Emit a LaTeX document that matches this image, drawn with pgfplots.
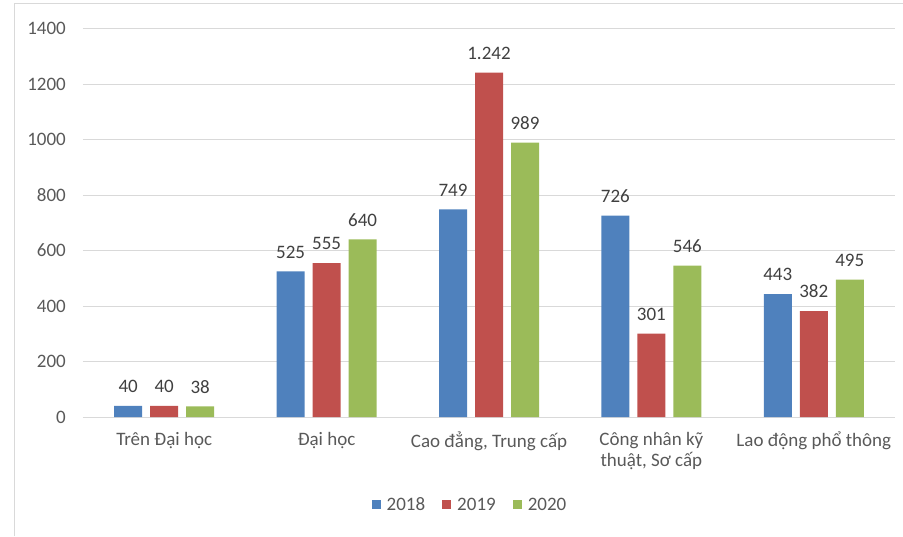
\documentclass[border=0pt]{standalone}
\usepackage{pgfplots}
\pgfplotsset{compat=1.18}
\usepackage{fontspec}
\setmainfont{Carlito}
\definecolor{cblue}{HTML}{4F81BD}
\definecolor{cred}{HTML}{C0504D}
\definecolor{cgreen}{HTML}{9BBB59}
\definecolor{gridc}{HTML}{D9D9D9}
\definecolor{txt}{HTML}{595959}
\definecolor{lbl}{HTML}{404040}
\begin{document}
\begin{tikzpicture}[font=\fontsize{19}{21.6}\selectfont]
\useasboundingbox (0,0) rectangle (903pt,536pt);
\draw[gridc, line width=1pt] (14pt,0) -- (14pt,532pt) -- (903pt,532pt);
\begin{axis}[
  at={(83pt,119pt)}, anchor=south west,
  scale only axis, width=812pt, height=388.3pt,
  ymin=0, ymax=1400, xmin=-0.5, xmax=4.5,
  ybar=8pt, bar width=28pt,
  axis line style={draw=none},
  major tick length=0pt,
  ytick={0,200,...,1400},
  ymajorgrids, grid style={gridc, line width=1pt},
  xtick={0,1,2,3,4},
  xticklabels={Trên Đại học, Đại học, {Cao đẳng, Trung cấp}, {Công nhân kỹ\\thuật, Sơ cấp}, Lao động phổ thông},
  xticklabel style={align=center, text=txt, inner sep=0pt, anchor=north, yshift=-15pt, font=\fontsize{19}{21.6}\selectfont},
  yticklabel style={text=txt, inner sep=0pt, anchor=east, xshift=-17pt, /pgf/number format/1000 sep={}, /pgf/number format/assume math mode=true, font=\fontsize{19}{21.6}\selectfont},
  nodes near coords={\pgfmathprintnumber[1000 sep={.},assume math mode=true]{\pgfplotspointmeta}},
  nodes near coords style={text=lbl, anchor=south, inner sep=0pt, yshift=13pt, font=\fontsize{19}{21.6}\selectfont},
  legend style={at={(0.4766,-0.2266)}, anchor=center, draw=none, fill=none, legend columns=3, text=txt, font=\fontsize{19}{21.6}\selectfont, inner sep=0pt,
    /tikz/every odd column/.append style={column sep=4pt},
    /tikz/every even column/.append style={column sep=15pt}},
  legend cell align=left,
  legend image code/.code={\fill[#1] (0pt,-4.5pt) rectangle (9pt,4.5pt);},
]
\addplot[fill=cblue, draw=none] coordinates {(0,40) (1,525) (2,749) (3,726) (4,443)};
\addplot[fill=cred, draw=none] coordinates {(0,40) (1,555) (2,1242) (3,301) (4,382)};
\addplot[fill=cgreen, draw=none] coordinates {(0,38) (1,640) (2,989) (3,546) (4,495)};
\legend{2018,2019,2020}
\end{axis}
\end{tikzpicture}
\end{document}
